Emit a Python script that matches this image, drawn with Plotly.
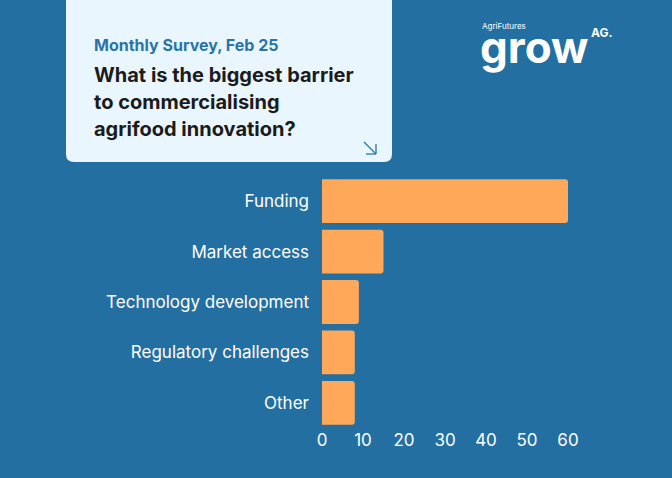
import plotly.graph_objects as go

categories = ["Funding", "Market access", "Technology development", "Regulatory challenges", "Other"]
values = [60, 15, 9, 8, 8]
tick_vals = [0, 10, 20, 30, 40, 50, 60]

W, H = 672, 478
L, R, T, B = 322, 63, 176, 50
PW, PH = W - L - R, H - T - B

def px(x):
    return (x - L) / PW

def py(y):
    return (H - B - y) / PH

BG = "#236fa1"
BAR = "#ffa85a"
CARD = "#eaf6fe"
FONT = "Inter, Open Sans, sans-serif"

fig = go.Figure(go.Bar(
    x=values, y=categories, orientation="h",
    marker=dict(color=BAR, line=dict(width=0), cornerradius=3),
    hoverinfo="skip",
))

# card with rounded bottom corners
x0, x1, y0, y1 = 66, 392, -10, 162
r = 8
path = (f"M {px(x0)},{py(y0)} L {px(x1)},{py(y0)} L {px(x1)},{py(y1 - r)} "
        f"Q {px(x1)},{py(y1)} {px(x1 - r)},{py(y1)} L {px(x0 + r)},{py(y1)} "
        f"Q {px(x0)},{py(y1)} {px(x0)},{py(y1 - r)} Z")
shapes = [dict(type="path", xref="paper", yref="paper", path=path,
               fillcolor=CARD, line=dict(width=0), layer="below")]
# arrow ↘
ac = "#2a73a8"
for (a, b, c, d) in [(364, 142, 376, 154), (366, 154, 376, 154), (376, 144, 376, 154)]:
    shapes.append(dict(type="line", xref="paper", yref="paper",
                       x0=px(a), y0=py(b), x1=px(c), y1=py(d),
                       line=dict(color=ac, width=1.3)))

annotations = [
    dict(text="<b>Monthly Survey, Feb 25</b>", x=px(92), y=py(45), xref="paper", yref="paper",
         xanchor="left", yanchor="middle", showarrow=False,
         font=dict(family=FONT, size=16, color="#2a73a8")),
]
for i, line in enumerate(["What is the biggest barrier", "to commercialising", "agrifood innovation?"]):
    annotations.append(dict(text=f"<b>{line}</b>", x=px(92), y=py(75 + 27 * i), xref="paper", yref="paper",
                            xanchor="left", yanchor="middle", showarrow=False,
                            font=dict(family=FONT, size=20, color="#1b1b1b")))
# logo
annotations += [
    dict(text="<b>grow</b>", x=px(478), y=py(47), xref="paper", yref="paper",
         xanchor="left", yanchor="middle", showarrow=False,
         font=dict(family=FONT, size=44, color="white")),
    dict(text="AgriFutures", x=px(480), y=py(26), xref="paper", yref="paper",
         xanchor="left", yanchor="middle", showarrow=False,
         font=dict(family=FONT, size=8, color="white")),
    dict(text="<b>AG.</b>", x=px(589), y=py(32), xref="paper", yref="paper",
         xanchor="left", yanchor="middle", showarrow=False,
         font=dict(family=FONT, size=12, color="white")),
]

fig.update_layout(
    width=W, height=H,
    margin=dict(l=L, r=R, t=T, b=B, pad=0),
    paper_bgcolor=BG, plot_bgcolor=BG,
    bargap=0.13,
    showlegend=False,
    font=dict(family=FONT, color="white", size=17),
    xaxis=dict(range=[0, 70], tickvals=tick_vals, showgrid=False, zeroline=False,
               showline=False, ticks="", tickfont=dict(size=17, color="white")),
    yaxis=dict(categoryorder="array", categoryarray=categories[::-1], showgrid=False,
               zeroline=False, showline=False, ticks="", ticklabelstandoff=12,
               tickfont=dict(size=17, color="white")),
    shapes=shapes,
    annotations=annotations,
)

fig.write_html("out.html")
